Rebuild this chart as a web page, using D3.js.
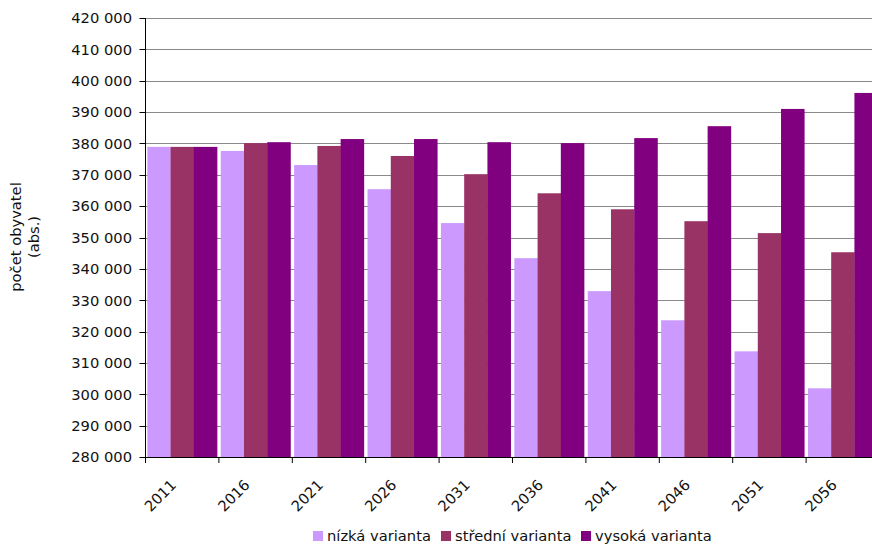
<!DOCTYPE html>
<html>
<head>
<meta charset="utf-8">
<script src="https://cdn.jsdelivr.net/npm/d3@7"></script>
<style>
  html, body { margin: 0; padding: 0; background: #fff; }
  svg { display: block; }
  text { font-family: Verdana, "DejaVu Sans", sans-serif; fill: #111; }
</style>
</head>
<body>
<svg id="chart" width="872" height="548"></svg>
<script>
const categories = ["2011", "2016", "2021", "2026", "2031", "2036", "2041", "2046", "2051", "2056"];
const seriesNames = ["nízká varianta", "střední varianta", "vysoká varianta"];
const seriesColors = ["#CC99FF", "#993366", "#800080"];
const nizka   = [378900, 377600, 373100, 365400, 354600, 343400, 332900, 323600, 313700, 301900];
const stredni = [378900, 380100, 379200, 376000, 370200, 364100, 359000, 355200, 351400, 345300];
const vysoka  = [378900, 380400, 381400, 381400, 380400, 380100, 381700, 385500, 391000, 396100];
const yTicks = [280000, 290000, 300000, 310000, 320000, 330000, 340000, 350000, 360000, 370000, 380000, 390000, 400000, 410000, 420000];
const yTitle = ["počet obyvatel", "(abs.)"];

const seriesValues = [nizka, stredni, vysoka];
const fmt = d3.formatLocale({decimal: ",", thousands: "\u00a0", grouping: [3], currency: ["", ""]}).format(",d");

const svg = d3.select("#chart");
const pLeft = 145.5, pRight = 879.5, pTop = 18, pBottom = 457;
const FS = "14.7px";

const y = d3.scaleLinear().domain([280000, 420000]).range([pBottom, pTop]);
const x0 = d3.scaleBand().domain(categories).range([pLeft, pRight]).paddingInner(0.05).paddingOuter(0.025);
const x1 = d3.scaleBand().domain(d3.range(seriesNames.length)).range([0, x0.bandwidth()]).padding(0);
const step = x0.step();

// gridlines
svg.append("g").selectAll("line").data(yTicks.filter(t => t > 280000)).join("line")
  .attr("x1", pLeft).attr("x2", 872)
  .attr("y1", d => Math.round(y(d)) + 0.5).attr("y2", d => Math.round(y(d)) + 0.5)
  .attr("stroke", "#8a8a8a").attr("stroke-width", 1);

// bars
const groups = svg.append("g").selectAll("g").data(categories).join("g")
  .attr("transform", d => `translate(${x0(d)},0)`);
groups.selectAll("rect").data((c, i) => seriesValues.map((vals, s) => ({s, v: vals[i]}))).join("rect")
  .attr("x", d => x1(d.s)).attr("width", x1.bandwidth() + 0.3)
  .attr("y", d => y(d.v)).attr("height", d => y(280000) - y(d.v))
  .attr("fill", d => seriesColors[d.s]);

// y axis
const yAxis = svg.append("g");
yAxis.append("line").attr("x1", pLeft).attr("x2", pLeft).attr("y1", pTop).attr("y2", pBottom + 0.5)
  .attr("stroke", "#000").attr("stroke-width", 1);
yAxis.selectAll("line.tick").data(yTicks).join("line").attr("class", "tick")
  .attr("x1", pLeft - 6).attr("x2", pLeft)
  .attr("y1", d => Math.round(y(d)) + 0.5).attr("y2", d => Math.round(y(d)) + 0.5)
  .attr("stroke", "#000");
yAxis.selectAll("text").data(yTicks).join("text")
  .attr("x", 132).attr("y", d => y(d)).attr("dy", "0.36em")
  .attr("text-anchor", "end").style("font-size", FS)
  .text(d => fmt(d));

// x axis
const xAxis = svg.append("g");
xAxis.append("line").attr("x1", pLeft).attr("x2", 872).attr("y1", pBottom + 0.5).attr("y2", pBottom + 0.5)
  .attr("stroke", "#000");
xAxis.selectAll("line.tick").data(d3.range(categories.length + 1)).join("line").attr("class", "tick")
  .attr("x1", i => pLeft + i * step).attr("x2", i => pLeft + i * step)
  .attr("y1", pBottom).attr("y2", pBottom + 6).attr("stroke", "#000");
xAxis.selectAll("text").data(categories).join("text")
  .attr("transform", d => `translate(${x0(d) + x0.bandwidth() / 2 - 5},${pBottom + 29}) rotate(-45)`)
  .attr("text-anchor", "end").style("font-size", FS)
  .text(d => d);

// y title
svg.append("g").selectAll("text").data(yTitle).join("text")
  .attr("transform", (d, i) => `translate(${[21, 39][i]},237) rotate(-90)`)
  .attr("text-anchor", "middle").style("font-size", FS)
  .text(d => d);

// legend
const legX = [313, 441, 581];
const leg = svg.append("g").selectAll("g").data(seriesNames).join("g")
  .attr("transform", (d, i) => `translate(${legX[i]},0)`);
leg.append("rect").attr("x", 0).attr("y", 531).attr("width", 10).attr("height", 10)
  .attr("fill", (d, i) => seriesColors[i]);
leg.append("text").attr("x", 14).attr("y", 541).style("font-size", FS).text(d => d);
</script>
</body>
</html>
